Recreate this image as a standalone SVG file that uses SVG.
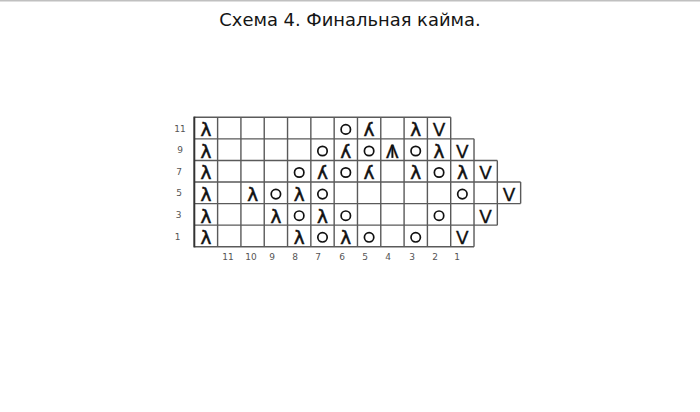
<svg xmlns="http://www.w3.org/2000/svg" width="700" height="412" viewBox="0 0 700 412">
<style>
.t{font-family:"DejaVu Sans",Verdana,sans-serif;font-size:17.9px;fill:#151515}
.g{fill:none;stroke:#5a5a5a;stroke-width:1.4}
.s{font-family:"DejaVu Sans",sans-serif;font-size:18.4px;fill:#111;stroke:#111;stroke-width:0.55;text-anchor:middle}
.v{font-family:"DejaVu Sans",sans-serif;font-size:18.4px;fill:#111;stroke:#111;stroke-width:0.3;text-anchor:middle}
.o{fill:none;stroke:#111;stroke-width:1.7}
.l{font-family:"DejaVu Sans",Verdana,sans-serif;font-size:9px;fill:#555;text-anchor:middle}
.st{stroke:#111;stroke-width:2}
</style>
<rect width="700" height="412" fill="#fff"/>
<rect x="0" y="0" width="700" height="1.5" fill="#c0c0c0"/>
<text class="t" x="350" y="26" text-anchor="middle">Схема 4. Финальная кайма.</text>
<g id="grid">
<path class="g" d="M194.3 117.3H450.71M194.3 138.87H474.02M194.3 160.44H497.33M194.3 182.01H520.64M194.3 203.58H520.64M194.3 225.15H497.33M194.3 246.72H474.02
M217.61 117.3V246.72M240.92 117.3V246.72M264.23 117.3V246.72M287.54 117.3V246.72M310.85 117.3V246.72M334.16 117.3V246.72M357.47 117.3V246.72M380.78 117.3V246.72M404.09 117.3V246.72M427.4 117.3V246.72M450.71 117.3V246.72M474.02 138.87V246.72M497.33 160.44V225.15M520.64 182.01V203.58"/>
<path d="M194.3 116.6V247.4" stroke="#333" stroke-width="2" fill="none"/>
</g>
<g id="row11">
<text class="s" x="205.96" y="136.3">λ</text>
<circle class="o" cx="345.8" cy="129.4" r="4.7"/>
<text class="s" transform="translate(369.1 0) scale(-1 1)" x="0" y="136.3">λ</text>
<text class="s" x="415.7" y="136.3">λ</text>
<text class="v" x="439.05" y="136.3">V</text>
</g>
<g id="row9">
<text class="s" x="205.96" y="157.9">λ</text>
<circle class="o" cx="322.5" cy="151" r="4.7"/>
<text class="s" transform="translate(345.8 0) scale(-1 1)" x="0" y="157.9">λ</text>
<circle class="o" cx="369.1" cy="151" r="4.7"/>
<text class="v" x="392.4" y="157.9">Λ</text>
<line class="st" x1="392.4" y1="144.5" x2="392.4" y2="157.9"/>
<circle class="o" cx="415.7" cy="151" r="4.7"/>
<text class="s" x="439.05" y="157.9">λ</text>
<text class="v" x="462.36" y="157.9">V</text>
</g>
<g id="row7">
<text class="s" x="205.96" y="179.4">λ</text>
<circle class="o" cx="299.2" cy="172.5" r="4.7"/>
<text class="s" transform="translate(322.5 0) scale(-1 1)" x="0" y="179.4">λ</text>
<circle class="o" cx="345.8" cy="172.5" r="4.7"/>
<text class="s" transform="translate(369.1 0) scale(-1 1)" x="0" y="179.4">λ</text>
<text class="s" x="415.7" y="179.4">λ</text>
<circle class="o" cx="439.05" cy="172.5" r="4.7"/>
<text class="s" x="462.36" y="179.4">λ</text>
<text class="v" x="485.67" y="179.4">V</text>
</g>
<g id="row5">
<text class="s" x="205.96" y="201">λ</text>
<text class="s" x="252.58" y="201">λ</text>
<circle class="o" cx="275.89" cy="194.1" r="4.7"/>
<text class="s" x="299.2" y="201">λ</text>
<circle class="o" cx="322.5" cy="194.1" r="4.7"/>
<circle class="o" cx="462.36" cy="194.1" r="4.7"/>
<text class="v" x="508.98" y="201">V</text>
</g>
<g id="row3">
<text class="s" x="205.96" y="222.6">λ</text>
<text class="s" x="275.89" y="222.6">λ</text>
<circle class="o" cx="299.2" cy="215.7" r="4.7"/>
<text class="s" x="322.5" y="222.6">λ</text>
<circle class="o" cx="345.8" cy="215.7" r="4.7"/>
<circle class="o" cx="439.05" cy="215.7" r="4.7"/>
<text class="v" x="485.67" y="222.6">V</text>
</g>
<g id="row1">
<text class="s" x="205.96" y="244.2">λ</text>
<text class="s" x="299.2" y="244.2">λ</text>
<circle class="o" cx="322.5" cy="237.3" r="4.7"/>
<text class="s" x="345.8" y="244.2">λ</text>
<circle class="o" cx="369.1" cy="237.3" r="4.7"/>
<circle class="o" cx="415.7" cy="237.3" r="4.7"/>
<text class="v" x="462.36" y="244.2">V</text>
</g>
<g id="row-labels">
<text class="l" x="180" y="131.5">11</text>
<text class="l" x="180" y="153">9</text>
<text class="l" x="179" y="174.5">7</text>
<text class="l" x="179" y="196">5</text>
<text class="l" x="178.5" y="218">3</text>
<text class="l" x="177.5" y="239.5">1</text>
</g>
<g id="col-labels">
<text class="l" x="228" y="260">11</text>
<text class="l" x="251" y="260">10</text>
<text class="l" x="272" y="260">9</text>
<text class="l" x="295" y="260">8</text>
<text class="l" x="318" y="260">7</text>
<text class="l" x="342" y="260">6</text>
<text class="l" x="365" y="260">5</text>
<text class="l" x="388" y="260">4</text>
<text class="l" x="412" y="260">3</text>
<text class="l" x="435" y="260">2</text>
<text class="l" x="457" y="260">1</text>
</g>
</svg>
